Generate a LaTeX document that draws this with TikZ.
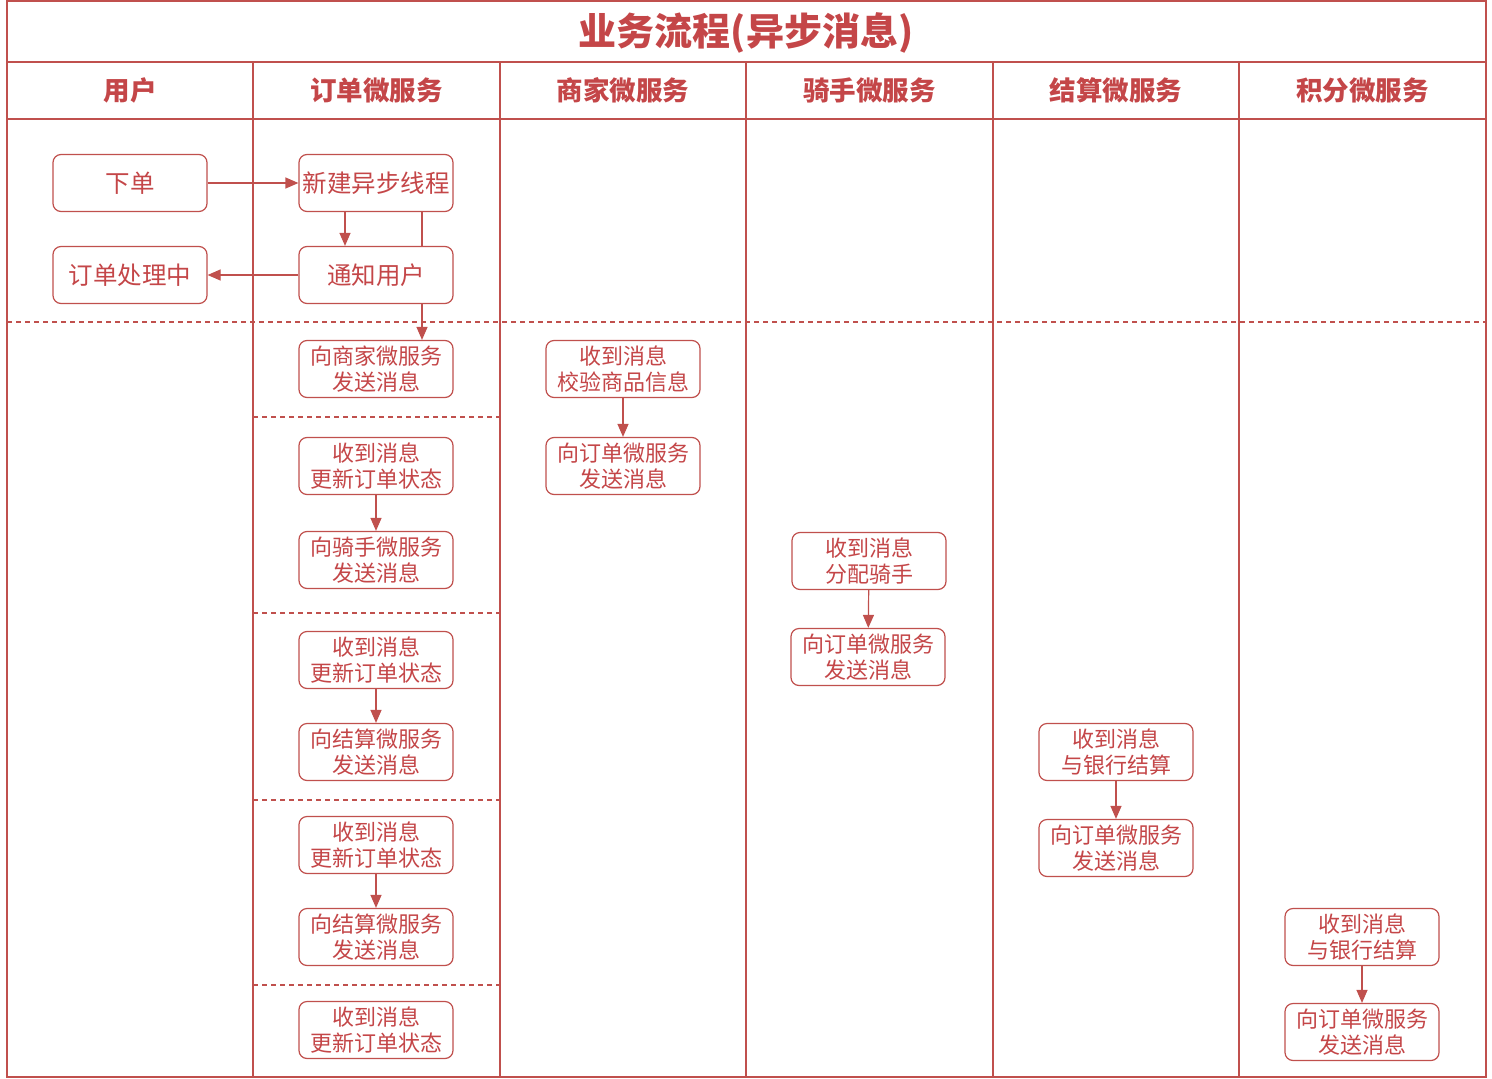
\documentclass[tikz,border=0pt]{standalone}
\usepackage{fontspec}
\setmainfont{Noto Sans CJK SC}
\usetikzlibrary{arrows.meta,positioning}
\definecolor{lane}{RGB}{192,80,77}
\definecolor{ink}{RGB}{196,70,72}
\tikzset{
    laneline/.style={draw=lane, line width=1.4pt},
    phase/.style={draw=lane, line width=1.2pt, dash pattern=on 5pt off 4pt},
    procbox/.style={draw=lane, fill=white, line width=1.2pt, rounded corners=8pt,
        minimum width=154pt, minimum height=57pt, inner sep=0pt, text=ink,
        align=center, font=\fontsize{22}{26}\selectfont},
    bigtext/.style={font=\fontsize{24.5}{28}\selectfont},
    header/.style={text=ink, font=\fontsize{26.5}{30}\selectfont\bfseries},
    title/.style={text=ink, font=\fontsize{38}{40}\selectfont\bfseries},
    flow/.style={draw=lane, line width=1.2pt, -{Triangle[length=13pt,width=11pt]}}
}
\begin{document}
\begin{tikzpicture}[x=1pt,y=-1pt]
    \useasboundingbox (0,0) rectangle (1492,1079);
    % Swimlane frame
    \draw[laneline] (7,1) rectangle (1486,1077);
    \draw[laneline] (7,62) -- (1486,62);
    \draw[laneline] (7,119) -- (1486,119);
    \foreach \x in {253,500,746,993,1239} {
        \draw[laneline] (\x,62) -- (\x,1077);
    }
    \draw[phase] (7,322) -- (1486,322);
    \foreach \y in {417,613,800,985} {
        \draw[phase] (253,\y) -- (500,\y);
    }

    % Title and lane headers
    \node[title] (title) at (746,33) {业务流程(异步消息)};
    \foreach \name/\x/\txt in {hUser/130/用户, hOrder/376.5/订单微服务,
            hShop/623/商家微服务, hRider/869.5/骑手微服务,
            hSettle/1116/结算微服务, hPoints/1362.5/积分微服务} {
        \node[header] (\name) at (\x,90) {\txt};
    }

    % User lane
    \node[procbox, bigtext] (place) at (130,183) {下单};
    \node[procbox, bigtext] (pending) at (130,275) {订单处理中};

    % Order lane
    \node[procbox, bigtext] (thread) at (376,183) {新建异步线程};
    \node[procbox, bigtext] (notify) at (376,275) {通知用户};
    \node[procbox] (toShop) at (376,369) {向商家微服务\\发送消息};
    \node[procbox] (recvA) at (376,466) {收到消息\\更新订单状态};
    \node[procbox] (toRider) at (376,560) {向骑手微服务\\发送消息};
    \node[procbox] (recvB) at (376,660) {收到消息\\更新订单状态};
    \node[procbox] (toSettle) at (376,752) {向结算微服务\\发送消息};
    \node[procbox] (recvC) at (376,845) {收到消息\\更新订单状态};
    \node[procbox] (toPoints) at (376,937) {向结算微服务\\发送消息};
    \node[procbox] (recvD) at (376,1030) {收到消息\\更新订单状态};

    % Shop lane
    \node[procbox] (shopCheck) at (623,369) {收到消息\\校验商品信息};
    \node[procbox] (shopReply) at (623,466) {向订单微服务\\发送消息};

    % Rider lane
    \node[procbox] (riderAssign) at (869,561) {收到消息\\分配骑手};
    \node[procbox] (riderReply) at (868,657) {向订单微服务\\发送消息};

    % Settlement lane
    \node[procbox] (settleBank) at (1116,752) {收到消息\\与银行结算};
    \node[procbox] (settleReply) at (1116,848) {向订单微服务\\发送消息};

    % Points lane
    \node[procbox] (pointsBank) at (1362,937) {收到消息\\与银行结算};
    \node[procbox] (pointsReply) at (1362,1032) {向订单微服务\\发送消息};

    % Connectors
    \draw[flow] (place.east) -- (thread.west);
    \draw[flow] (notify.west) -- (pending.east);
    \draw[flow] ([xshift=-31pt]thread.south) -- ([xshift=-31pt]notify.north);
    \draw[draw=lane, line width=1.2pt] ([xshift=46pt]thread.south) -- ([xshift=46pt]notify.north);
    \draw[flow] ([xshift=46pt]notify.south) -- ([xshift=46pt]toShop.north);
    \draw[flow] (recvA) -- (toRider);
    \draw[flow] (recvB) -- (toSettle);
    \draw[flow] (recvC) -- (toPoints);
    \draw[flow] (shopCheck) -- (shopReply);
    \draw[flow] (riderAssign) -- (riderReply);
    \draw[flow] (settleBank) -- (settleReply);
    \draw[flow] (pointsBank) -- (pointsReply);
\end{tikzpicture}
\end{document}
